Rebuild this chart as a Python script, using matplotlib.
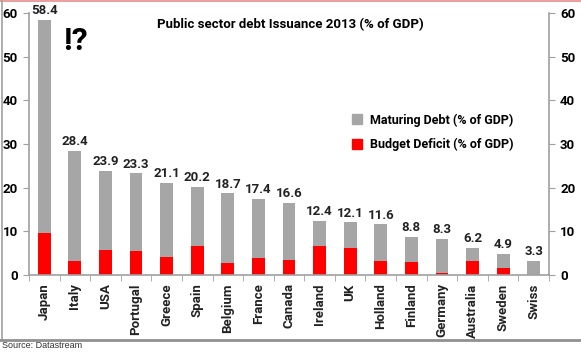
import matplotlib
matplotlib.use("Agg")
from matplotlib import pyplot as plt
from matplotlib.patches import Rectangle
from matplotlib.lines import Line2D
import numpy as np

countries = ["Japan", "Italy", "USA", "Portugal", "Greece", "Spain", "Belgium",
             "France", "Canada", "Ireland", "UK", "Holland", "Finland",
             "Germany", "Australia", "Sweden", "Swiss"]
total_issuance = [58.4, 28.4, 23.9, 23.3, 21.1, 20.2, 18.7, 17.4, 16.6,
                  12.4, 12.1, 11.6, 8.8, 8.3, 6.2, 4.9, 3.3]
budget_deficit = [9.6, 3.2, 5.8, 5.5, 4.1, 6.7, 2.8, 4.0, 3.4,
                  6.7, 6.1, 3.1, 2.9, 0.4, 3.1, 1.5, 0.0]
yticks = [0, 10, 20, 30, 40, 50, 60]

total = np.array(total_issuance)
deficit = np.array(budget_deficit)
maturing = total - deficit

plt.rcParams["font.family"] = ["Roboto", "DejaVu Sans"]
plt.rcParams["font.weight"] = "bold"

fig = plt.figure(figsize=(5.81, 3.52), dpi=100)
ax = fig.add_axes([29 / 581, 1 - 275 / 352, 520 / 581, 262 / 352])

x = np.arange(len(countries))
ax.bar(x, deficit, width=0.42, color="#ff0000", zorder=2)
ax.bar(x, maturing, bottom=deficit, width=0.42, color="#a6a6a6", zorder=2)

for xi, t in zip(x, total):
    ax.text(xi, t + 0.6, f"{t:.1f}", ha="center", va="bottom", fontsize=9.5,
            color="#222222")

ax.set_xlim(-0.5, len(countries) - 0.5)
ax.set_ylim(0, 60)
ax.set_yticks(yticks)
ax.set_xticks(x)
ax.set_xticklabels(countries, rotation=90, fontsize=9.5, color="#222222")
ax.set_xticks(np.arange(-0.5, len(countries)), minor=True)
ax.tick_params(axis="x", which="major", length=0, pad=6)
ax.tick_params(axis="x", which="minor", length=4, color="#a0a0a0", direction="out")
ax.yaxis.set_ticks_position("both")
ax.tick_params(axis="y", length=4, color="#a0a0a0", labelsize=9.5,
               labelleft=True, labelright=True, pad=4)

ax.spines["top"].set_visible(False)
for s in ["left", "right", "bottom"]:
    ax.spines[s].set_color("#a0a0a0")
    ax.spines[s].set_linewidth(1.2)

ax.text(0.502, 0.955, "Public sector debt Issuance 2013 (% of GDP)",
        transform=ax.transAxes, ha="center", va="center", fontsize=9.5)
ax.text(0.09, 0.895, "!?", transform=ax.transAxes, ha="center", va="center",
        fontsize=23)

handles = [Rectangle((0, 0), 1, 1, color="#a6a6a6"),
           Rectangle((0, 0), 1, 1, color="#ff0000")]
ax.legend(handles, ["Maturing Debt (% of GDP)", "Budget Deficit (% of GDP)"],
          loc="upper left", bbox_to_anchor=(0.6, 0.66), frameon=False,
          handlelength=0.8, handleheight=0.8, handletextpad=0.6,
          labelspacing=0.9, prop={"size": 9})

# outer frame and source line
fig.add_artist(Line2D([0, 1], [1 - 0.5 / 352] * 2, color="#e8a0a0", lw=1.5,
                      transform=fig.transFigure))
fig.add_artist(Line2D([1.5 / 581] * 2, [1, 1 - 339 / 352], color="#a0a0a0", lw=1.2,
                      transform=fig.transFigure))
fig.add_artist(Line2D([0, 1], [1 - 339.5 / 352] * 2, color="#909090", lw=2,
                      transform=fig.transFigure))
fig.text(2 / 581, 1 - 346 / 352, "Source: Datastream", fontsize=6.5,
         family="Liberation Sans", fontweight="normal", color="#333333",
         va="center")

plt.savefig("out.png", dpi=100)
